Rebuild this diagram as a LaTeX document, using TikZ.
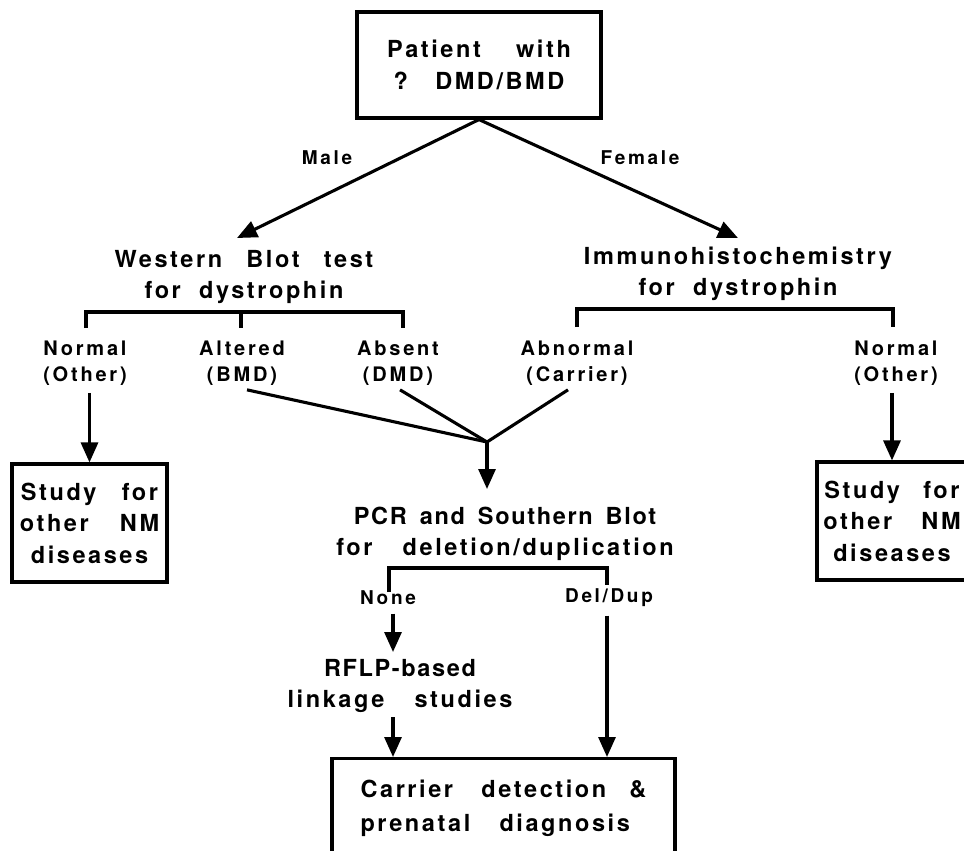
\documentclass[tikz,border=0pt]{standalone}
\usepackage{fontspec}
\setmainfont{TeX Gyre Heros}
\newfontfamily\bigf{TeX Gyre Heros}[UprightFont={* Bold},LetterSpace=11,WordSpace=2]
\newfontfamily\midf{TeX Gyre Heros}[UprightFont={* Bold},LetterSpace=7,WordSpace=1.6]
\newfontfamily\labf{TeX Gyre Heros}[UprightFont={* Bold},LetterSpace=14,WordSpace=2]
\usetikzlibrary{arrows.meta,calc}
\newcommand\gp[1]{\hspace{#1pt}}
\begin{document}
\begin{tikzpicture}[x=1pt,y=-1pt,line width=3.1pt,
  big/.style={font={\fontsize{23.5}{31}\bigf}, align=center, inner sep=0pt},
  lab/.style={font={\fontsize{20}{26}\labf}, align=center, inner sep=0pt},
  sml/.style={font={\fontsize{19}{23}\labf}, inner sep=0pt},
  box/.style={draw, line width=3.1pt, inner sep=0pt},
  arr/.style={-{Triangle[length=20pt,width=17pt]}},
]
\path[use as bounding box, clip] (0,0) rectangle (964,851);

% top box
\node[box, big, minimum width=244pt, minimum height=106pt, font={\fontsize{23.5}{32}\bigf}] (pat) at (479,65) {Patient\gp{17} with\\?\gp{6} DMD/BMD};

\node[sml] (male) at (327,158) {Male};
\node[sml] (female) at (640,158) {Female};
\coordinate (wbtip) at (237,238);
\coordinate (ihtip) at (738,238);
\draw[arr] (pat.south) -- (wbtip);
\draw[arr] (pat.south) -- (ihtip);

% second level
\node[big] (wb) at (244,277) {Western\gp{6} Blot\gp{6} test\\for dystrophin};
\node[big] (ih) at (738,274) {Immunohistochemistry\\for dystrophin};

% brackets
\draw (86,328) -- (86,312) -- (403,312) -- (403,328);
\draw (241,312) -- (241,328);
\draw (577,327) -- (577,309) -- (893,309) -- (893,327);

% results
\node[lab] (nl) at (85,363) {Normal\\(Other)};
\node[lab] (alt) at (242,363) {Altered\\(BMD)};
\node[lab] (abs) at (398,363) {Absent\\(DMD)};
\node[lab] (abn) at (577,363) {Abnormal\\(Carrier)};
\node[lab] (nr) at (896,363) {Normal\\(Other)};

% side boxes
\node[box, big, minimum width=155pt, minimum height=118pt, font={\fontsize{23.5}{31.5}\bigf}] (lbox) at (89.5,523) {Study\gp{7} for\\other\gp{13} NM\\diseases};
\node[box, big, minimum width=150pt, minimum height=118pt, font={\fontsize{23.5}{31.5}\bigf}] (rbox) at (892,521) {Study\gp{5} for\\other\gp{11} NM\\diseases};
\draw[arr, shorten <=6pt] (lbox.north |- nl.south) -- (lbox.north);
\draw[arr, shorten <=6pt] (rbox.north |- nr.south) -- (rbox.north);

% convergence
\coordinate (J) at (487,442);
\draw ($(alt.south)+(5,3)$) -- (J);
\draw ($(abs.south)+(2,3)$) -- (J);
\draw ($(abn.south)+(-9,3)$) -- (J);
\coordinate (pcrtip) at (487,489);
\draw[arr] (J) -- (pcrtip);

\node[big] (pcr) at (505,534) {{\midf PCR and Southern Blot}\\for\gp{12} deletion/duplication};

% PCR bracket
\draw (389,592) -- (389,568) -- (607,568) -- (607,585);
\node[sml] (none) at (388,598) {None};
\node[sml] (dd) at (609,598) {Del/Dup};

\coordinate (rflptip) at (393,652);
\draw[arr] ($(none.south)+(5,7)$) -- (rflptip);
\node[big] (rflp) at (400,686) {{\midf RFLP-based}\\linkage\gp{12} studies};

% bottom box
\node[box, big, align=left, minimum width=343pt, minimum height=100pt, anchor=north, font={\fontsize{23.5}{34}\bigf}] (cbox) at (503.5,757) {Carrier\gp{10} detection\gp{5} \&\\prenatal\gp{11} diagnosis};

\coordinate (r1) at ($(rflp.south)+(-7,3)$);
\draw[arr] (r1) -- (r1 |- cbox.north);
\coordinate (d1) at ($(dd.south)+(-2,7)$);
\draw[arr] (d1) -- (d1 |- cbox.north);
\end{tikzpicture}
\end{document}
